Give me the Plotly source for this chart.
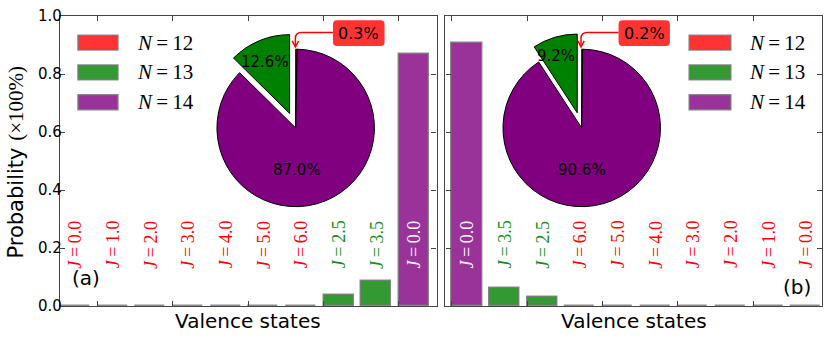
import plotly.graph_objects as go

# ---------------- data ----------------
left_J = ["0.0", "1.0", "2.0", "3.0", "4.0", "5.0", "6.0", "2.5", "3.5", "0.0"]
left_N = [12, 12, 12, 12, 12, 12, 12, 13, 13, 14]
left_P = [0.0002, 0.0003, 0.0004, 0.0005, 0.0006, 0.0005, 0.0005, 0.039, 0.087, 0.870]

right_J = ["0.0", "3.5", "2.5", "6.0", "5.0", "4.0", "3.0", "2.0", "1.0", "0.0"]
right_N = [14, 13, 13, 12, 12, 12, 12, 12, 12, 12]
right_P = [0.906, 0.061, 0.031, 0.0004, 0.0004, 0.0003, 0.0003, 0.0002, 0.0002, 0.0002]

groups = [12, 13, 14]
pie_left = [0.3, 12.6, 87.0]
pie_right = [0.2, 9.2, 90.6]
y_ticks = [0.0, 0.2, 0.4, 0.6, 0.8, 1.0]
panel_tags = ["(a)", "(b)"]
x_title = "Valence states"

# ---------------- styling ----------------
W, H = 830, 337
ML, MR, MT, MB = 60, 7, 14, 31
PW, PH = W - ML - MR, H - MT - MB
bar_colors = {12: "rgb(255,51,51)", 13: "rgb(51,153,51)", 14: "rgb(153,51,153)"}
label_colors = {12: "#ff0000", 13: "#109010", 14: "#ffffff"}
pie_colors = ["#ff0000", "#008000", "#800080"]
edge = "rgba(120,120,120,0.85)"
axc = "#444444"
SANS = "DejaVu Sans"
SERIF = "Liberation Serif"
TS = "\u2009"  # thin space as in math text


def px(x):
    return (x - ML) / PW


def py(y):
    return (MT + PH - y) / PH


fig = go.Figure()

panels = [
    dict(J=left_J, N=left_N, P=left_P, xa="x", ya="y"),
    dict(J=right_J, N=right_N, P=right_P, xa="x2", ya="y2"),
]

annotations = []
shapes = []

for pn in panels:
    for g in groups:
        idx = [i for i, n in enumerate(pn["N"]) if n == g]
        fig.add_trace(go.Bar(
            x=[i + 0.4 for i in idx], y=[pn["P"][i] for i in idx], width=0.8,
            marker=dict(color=bar_colors[g], line=dict(color=edge, width=1.5)),
            xaxis=pn["xa"], yaxis=pn["ya"], showlegend=False, hoverinfo="skip"))
    for i, (j, n) in enumerate(zip(pn["J"], pn["N"])):
        annotations.append(dict(
            x=i + 0.4, y=0.122, xref=pn["xa"], yref="y", text=f"<i>J</i>{TS}={TS}{j}",
            textangle=-90, xanchor="center", yanchor="bottom", showarrow=False,
            font=dict(family=SERIF, size=18, color=label_colors[n])))

# ---------------- pies ----------------
R = 79.3
pull = [0, 0.2, 0]
for vals, (cx, cy) in [(pie_left, (296.0, 126.7)), (pie_right, (582.4, 126.7))]:
    half = R * (1 + max(pull))
    fig.add_trace(go.Pie(
        values=vals, sort=False, direction="counterclockwise", rotation=0,
        pull=pull, textinfo="none", hoverinfo="skip", showlegend=False,
        marker=dict(colors=pie_colors, line=dict(color="black", width=1)),
        domain=dict(x=[px(cx - half), px(cx + half)], y=[py(cy + half), py(cy - half)])))

# pie percentage labels
pie_text_pos = [
    (pie_left, [(265, 60), (297, 169)]),
    (pie_right, [(557, 54), (583, 169)]),
]
for vals, pos in pie_text_pos:
    for v, (tx, ty) in zip(vals[1:], pos):
        annotations.append(dict(x=px(tx), y=py(ty), xref="paper", yref="paper",
                                text=f"{v:.1f}%", showarrow=False, xanchor="center", yanchor="middle",
                                font=dict(family=SANS, size=15, color="black")))

# callouts for the tiny slice
for vals, (bx0, bx1), (ax_, turn) in [(pie_left, (333.3, 385.0), (295.7, 301.7)),
                                       (pie_right, (619.3, 670.7), (581.7, 588.0))]:
    by0, by1, r = 18.3, 44.3, 4
    path = (f"M {px(bx0 + r)},{py(by0)} L {px(bx1 - r)},{py(by0)} "
            f"Q {px(bx1)},{py(by0)} {px(bx1)},{py(by0 + r)} L {px(bx1)},{py(by1 - r)} "
            f"Q {px(bx1)},{py(by1)} {px(bx1 - r)},{py(by1)} L {px(bx0 + r)},{py(by1)} "
            f"Q {px(bx0)},{py(by1)} {px(bx0)},{py(by1 - r)} L {px(bx0)},{py(by0 + r)} "
            f"Q {px(bx0)},{py(by0)} {px(bx0 + r)},{py(by0)} Z")
    shapes.append(dict(type="path", path=path, xref="paper", yref="paper",
                       fillcolor="rgb(255,51,51)", line=dict(width=0), layer="above"))
    annotations.append(dict(x=px((bx0 + bx1) / 2), y=py((by0 + by1) / 2), xref="paper", yref="paper",
                            text=f"{vals[0]:.1f}%", showarrow=False, xanchor="center", yanchor="middle",
                            font=dict(family=SANS, size=16, color="black")))
    ly = 30.7
    arrow = (f"M {px(bx0)},{py(ly)} L {px(turn)},{py(ly)} "
             f"Q {px(ax_)},{py(ly)} {px(ax_)},{py(ly + 6)} L {px(ax_)},{py(45)}")
    shapes.append(dict(type="path", path=arrow, xref="paper", yref="paper",
                       line=dict(color="#ff0000", width=1.5), layer="above"))
    head = f"M {px(ax_ - 3.2)},{py(39.0)} L {px(ax_)},{py(45.2)} L {px(ax_ + 3.2)},{py(39.0)}"
    shapes.append(dict(type="path", path=head, xref="paper", yref="paper",
                       line=dict(color="#ff0000", width=1.5), layer="above"))

# ---------------- manual legends ----------------
for (rx0, rx1, tx) in [(78, 118, 135), (690, 731.7, 748)]:
    for k, g in enumerate(groups):
        yc = 40.8 + 30 * k
        shapes.append(dict(type="rect", xref="paper", yref="paper",
                           x0=px(rx0), x1=px(rx1), y0=py(yc + 7.5), y1=py(yc - 7.5),
                           fillcolor=bar_colors[g], line=dict(color=edge, width=1.5), layer="above"))
        annotations.append(dict(x=px(tx), y=py(yc), xref="paper", yref="paper",
                                text=f"<i>N</i>{TS}={TS}{g}", showarrow=False, xanchor="left",
                                yanchor="middle", font=dict(family=SERIF, size=21, color="black")))

# ---------------- axis titles and tags ----------------
annotations.append(dict(x=px(16), y=py(161.5), xref="paper", yref="paper", textangle=-90,
                        text=f"Probability <span style='font-family:{SERIF}'>(×100%)</span>",
                        showarrow=False, xanchor="center", yanchor="middle",
                        font=dict(family=SANS, size=21, color="black")))
for cxp in [(60 + 437) / 2, (446 + 823) / 2]:
    annotations.append(dict(x=px(cxp), y=py(321), xref="paper", yref="paper", text=x_title,
                            showarrow=False, xanchor="center", yanchor="middle",
                            font=dict(family=SANS, size=20, color="black")))
annotations.append(dict(x=px(70), y=py(278), xref="paper", yref="paper", text=panel_tags[0],
                        showarrow=False, xanchor="left", yanchor="middle",
                        font=dict(family=SANS, size=20, color="black")))
annotations.append(dict(x=px(814), y=py(286.5), xref="paper", yref="paper", text=panel_tags[1],
                        showarrow=False, xanchor="right", yanchor="middle",
                        font=dict(family=SANS, size=20, color="black")))

axis_common = dict(showline=True, linecolor=axc, linewidth=1.3, mirror="ticks", ticks="inside",
                   ticklen=5, tickwidth=1.3, tickcolor=axc, showgrid=False, zeroline=False,
                   layer="above traces")

fig.update_layout(
    width=W, height=H, margin=dict(l=ML, r=MR, t=MT, b=MB),
    paper_bgcolor="white", plot_bgcolor="white", bargap=0,
    font=dict(family=SANS, size=15, color="black"),
    xaxis=dict(domain=[0, px(437)], range=[0, 10], tickvals=[1, 3, 5, 7, 9],
               showticklabels=False, anchor="y", **axis_common),
    xaxis2=dict(domain=[px(446), 1], range=[-0.17, 9.83], tickvals=[0, 2, 4, 6, 8],
                showticklabels=False, anchor="y2", **axis_common),
    yaxis=dict(domain=[0, 1], range=[0, 1], tickvals=y_ticks, ticklabelstandoff=-6,
               ticktext=[f"{v:.1f}" for v in y_ticks], anchor="x", **axis_common),
    yaxis2=dict(domain=[0, 1], range=[0, 1], tickvals=y_ticks, showticklabels=False,
                anchor="x2", matches="y", **axis_common),
    annotations=annotations, shapes=shapes,
)

# remove the browser's default 8px page margin so the figure fills the window exactly
fig.write_html("out.html", config={"displayModeBar": False},
               post_script="document.body.style.margin='0';")
